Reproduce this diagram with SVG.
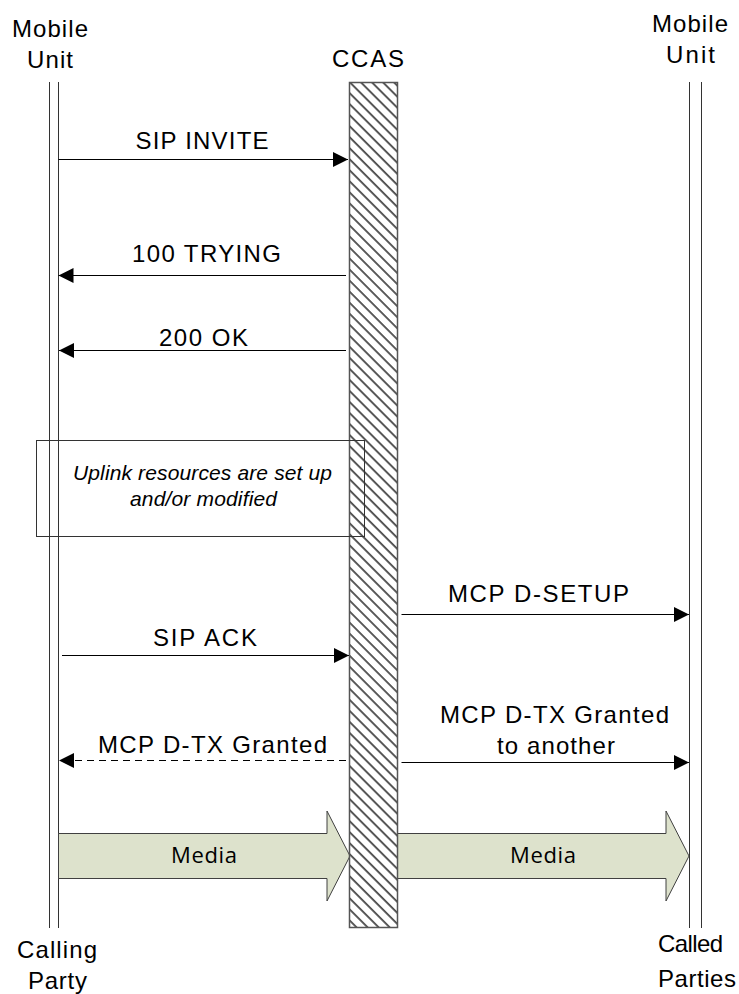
<svg xmlns="http://www.w3.org/2000/svg" width="739" height="994" viewBox="0 0 739 994">
<style>
.t{font-family:"Liberation Sans",Arial,sans-serif;font-size:24px;fill:#000;text-anchor:middle}
.it{font-family:"Liberation Sans",Arial,sans-serif;font-size:21px;font-style:italic;fill:#000;text-anchor:middle}
.m{font-family:"Open Sans",sans-serif;font-size:22px;fill:#000;text-anchor:middle}
.ll{stroke:#333;stroke-width:1;fill:none}
.msg{stroke:#000;stroke-width:1;fill:none}
.media{fill:#dde2cc;stroke:#404040;stroke-width:1}
</style>
<defs>
<pattern id="hatch" patternUnits="userSpaceOnUse" width="7.8" height="7.8" patternTransform="rotate(-45)">
<rect width="7.8" height="7.8" fill="#fff"/>
<line x1="2" y1="-1" x2="2" y2="9" stroke="#333" stroke-width="1.6"/>
</pattern>
<marker id="ah" markerWidth="15" markerHeight="15" refX="15" refY="7.5" orient="auto" markerUnits="userSpaceOnUse">
<path d="M0,0 L15,7.5 L0,15 Z" fill="#000"/>
</marker>
</defs>
<rect width="739" height="994" fill="#fff"/>

<g id="calling-party">
<line class="ll" x1="49.5" y1="82" x2="49.5" y2="928"/>
<line class="ll" x1="58.5" y1="82" x2="58.5" y2="928"/>
<text class="t" x="50" y="37" textLength="76" lengthAdjust="spacing">Mobile</text>
<text class="t" x="50" y="68" textLength="46" lengthAdjust="spacing">Unit</text>
<text class="t" x="57" y="958" textLength="80" lengthAdjust="spacing">Calling</text>
<text class="t" x="57.5" y="989" textLength="59" lengthAdjust="spacing">Party</text>
</g>

<g id="called-parties">
<line class="ll" x1="689.5" y1="82" x2="689.5" y2="928"/>
<line class="ll" x1="701.5" y1="82" x2="701.5" y2="928"/>
<text class="t" x="690" y="32" textLength="76" lengthAdjust="spacing">Mobile</text>
<text class="t" x="690.5" y="63" textLength="49" lengthAdjust="spacing">Unit</text>
<text class="t" x="690.5" y="952" textLength="65" lengthAdjust="spacing">Called</text>
<text class="t" x="697" y="987" textLength="78" lengthAdjust="spacing">Parties</text>
</g>

<g id="media-arrows">
<polygon class="media" points="58.5,833.5 327,833.5 327,811 350,856 327,901 327,878.5 58.5,878.5"/>
<text class="m" x="204" y="863" textLength="66" lengthAdjust="spacing">Media</text>
<polygon class="media" points="397.5,833.5 666,833.5 666,811 689,856 666,901 666,878.5 397.5,878.5"/>
<text class="m" x="543" y="863" textLength="66" lengthAdjust="spacing">Media</text>
</g>

<g id="ccas">
<rect x="349.5" y="82.5" width="48" height="845" fill="url(#hatch)" stroke="#555" stroke-width="1.5"/>
<text class="t" x="368" y="67" textLength="72" lengthAdjust="spacing">CCAS</text>
</g>

<g id="uplink-note">
<rect x="36.5" y="440.5" width="328" height="96" fill="none" stroke="#333" stroke-width="1"/>
<text class="it" x="202.5" y="480" textLength="259" lengthAdjust="spacing">Uplink resources are set up</text>
<text class="it" x="203.5" y="506" textLength="147" lengthAdjust="spacing">and/or modified</text>
</g>

<g id="connectors">
<line class="msg" x1="58.5" y1="159.5" x2="348" y2="159.5" marker-end="url(#ah)"/>
<text class="t" x="202" y="149" textLength="133" lengthAdjust="spacing">SIP INVITE</text>

<line class="msg" x1="346" y1="275.5" x2="58.5" y2="275.5" marker-end="url(#ah)"/>
<text class="t" x="206.5" y="262" textLength="149" lengthAdjust="spacing">100 TRYING</text>

<line class="msg" x1="346" y1="350.5" x2="59" y2="350.5" marker-end="url(#ah)"/>
<text class="t" x="203.5" y="346" textLength="89" lengthAdjust="spacing">200 OK</text>

<line class="msg" x1="401.5" y1="614.5" x2="689" y2="614.5" marker-end="url(#ah)"/>
<text class="t" x="538.5" y="602" textLength="181" lengthAdjust="spacing">MCP D-SETUP</text>

<line class="msg" x1="62" y1="655.5" x2="349" y2="655.5" marker-end="url(#ah)"/>
<text class="t" x="205" y="646" textLength="104" lengthAdjust="spacing">SIP ACK</text>

<line class="msg" x1="346" y1="760.5" x2="59" y2="760.5" stroke-dasharray="7,5" marker-end="url(#ah)"/>
<text class="t" x="212.5" y="753" textLength="229" lengthAdjust="spacing">MCP D-TX Granted</text>

<line class="msg" x1="401.5" y1="762.5" x2="689" y2="762.5" marker-end="url(#ah)"/>
<text class="t" x="554.5" y="723" textLength="229" lengthAdjust="spacing">MCP D-TX Granted</text>
<text class="t" x="556" y="754" textLength="118" lengthAdjust="spacing">to another</text>
</g>
</svg>
